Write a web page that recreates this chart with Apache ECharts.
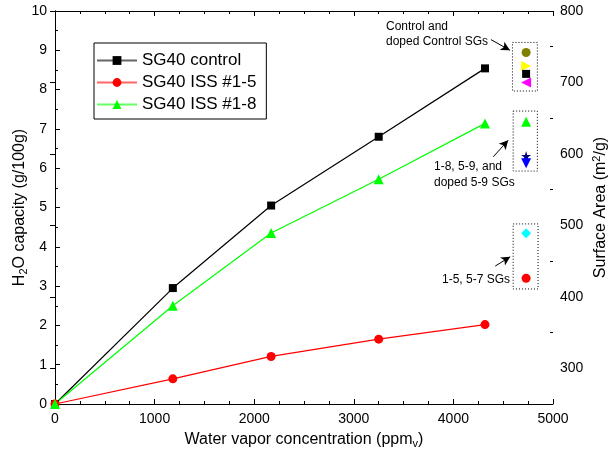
<!DOCTYPE html>
<html>
<head>
<meta charset="utf-8">
<script src="https://cdn.jsdelivr.net/npm/echarts@6/dist/echarts.min.js"></script>
<style>html,body{margin:0;padding:0;background:#fff}#c{width:613px;height:456px}</style>
</head>
<body>
<div id="c"></div>
<script>
// ---- data ----
const ppmv = [0, 1183, 2170, 3250, 4317];
const sg40Control = [0, 2.95, 5.05, 6.80, 8.54];
const sg40Iss15 = [0, 0.64, 1.21, 1.65, 2.02];
const sg40Iss18 = [0, 2.50, 4.35, 5.72, 7.14];
const saX = 4730;
const saNames = ['Control A', 'Doped control A', 'Control B', 'Doped control B', '1-8', '5-9', 'Doped 5-9', '1-5', '5-7'];
const saValues = [742, 723, 712, 700, 645, 597, 587, 489, 426];
const saColors = ['#808000', '#ffff00', '#000000', '#ff00ff', '#00ff00', '#000080', '#0000ff', '#00ffff', '#ff0000'];
const saSymbols = ['circle', 'triangle', 'rect', 'triangle', 'triangle',
  'path://M50,0 L61,35 L98,35 L68,57 L79,91 L50,70 L21,91 L32,57 L2,35 L39,35 Z', 'triangle', 'diamond', 'circle'];
const saRotate = [0, -90, 0, 90, 0, 0, 180, 0, 0];
const saSizes = [9, 10, 8, 10, 10, 10, 10, 10, 9];
const xTicks = [0, 1000, 2000, 3000, 4000, 5000];
const rightTickLabels = [300, 400, 500, 600, 700, 800];
const rightMinorTicks = [250, 350, 450, 550, 650, 750];
// dotted group boxes [x0, y0, x1, y1] in (ppmv, surface area)
const boxes = [[4593, 756, 4843, 688], [4600, 660, 4843, 576], [4600, 502, 4850, 411]];
// annotation arrows [x0, y0, x1, y1] in (ppmv, surface area)
const arrows = [[4377, 760, 4567, 745], [4400, 596, 4550, 619], [4420, 443, 4570, 456]];

const FONT = "'Liberation Sans', Arial, sans-serif";
const chart = echarts.init(document.getElementById('c'));

const series = [
  {name: 'SG40 control', data: sg40Control, color: '#000000', symbol: 'rect', size: 8},
  {name: 'SG40 ISS #1-5', data: sg40Iss15, color: '#ff0000', symbol: 'circle', size: 9},
  {name: 'SG40 ISS #1-8', data: sg40Iss18, color: '#00ff00', symbol: 'triangle', size: 10}
].map(s => ({
  type: 'line', name: s.name, xAxisIndex: 0, yAxisIndex: 0,
  data: ppmv.map((x, i) => [x, s.data[i]]),
  symbol: s.symbol, symbolSize: s.size, showSymbol: true,
  itemStyle: {color: s.color},
  lineStyle: {color: s.color, width: 1.2},
  clip: true, animation: false
}));

saValues.forEach((v, i) => {
  const s = {
    type: 'scatter', name: saNames[i], xAxisIndex: 0, yAxisIndex: 1,
    data: [[saX, v]], symbol: saSymbols[i], symbolSize: saSizes[i], symbolRotate: saRotate[i],
    itemStyle: {color: saColors[i], opacity: 1}, animation: false, z: 3
  };
  if (i === 0) {
    s.markArea = {
      silent: true,
      itemStyle: {color: 'rgba(0,0,0,0)', borderColor: '#000', borderWidth: 1, borderType: [1, 2]},
      data: boxes.map(b => [{coord: [b[0], b[1]]}, {coord: [b[2], b[3]]}])
    };
    s.markLine = {
      silent: true, symbol: ['none', 'arrow'], symbolSize: [7, 9],
      label: {show: false},
      lineStyle: {color: '#000', width: 1, type: 'solid'},
      data: arrows.map(a => [{coord: [a[0], a[1]]}, {coord: [a[2], a[3]]}]),
      animation: false
    };
  }
  series.push(s);
});

const tickCommon = {show: true, inside: true, length: 5, lineStyle: {color: '#000', width: 1}};
const minorCommon = {show: true, length: 3, lineStyle: {color: '#000', width: 1}};
const lineCommon = {show: true, lineStyle: {color: '#000', width: 1}};
const plain = v => String(v);

chart.setOption({
  backgroundColor: '#fff',
  animation: false,
  textStyle: {fontFamily: FONT},
  grid: {left: 55, right: 60, top: 11, bottom: 52, containLabel: false, outerBoundsMode: 'none'},
  legend: {
    orient: 'vertical', left: 94, top: 43,
    data: ['SG40 control', 'SG40 ISS #1-5', 'SG40 ISS #1-8'],
    itemWidth: 40, itemHeight: 11, itemGap: 5,
    padding: [9, 10, 6, 2],
    borderColor: '#000', borderWidth: 1,
    textStyle: {fontFamily: FONT, fontSize: 17, color: '#000'},
    lineStyle: {opacity: 0.6},
    selectedMode: false
  },
  xAxis: [{
    type: 'value', position: 'bottom', min: 0, max: 5000, interval: 1000,
    name: '{a|Water vapor concentration (ppm}{s|v}{a|)}',
    nameLocation: 'middle', nameGap: 26, nameMoveOverlap: false,
    nameTextStyle: {rich: {
      a: {fontFamily: FONT, fontSize: 16, color: '#000'},
      s: {fontFamily: FONT, fontSize: 11, color: '#000', verticalAlign: 'bottom', padding: [8, 0, 0, 0]}
    }},
    axisLine: lineCommon, axisTick: tickCommon,
    minorTick: Object.assign({splitNumber: 4}, minorCommon),
    axisLabel: {fontFamily: FONT, fontSize: 14, color: '#000', margin: 8, customValues: xTicks, formatter: plain},
    splitLine: {show: false}
  }, {
    type: 'value', position: 'top', min: 0, max: 5000, interval: 1000,
    axisLine: lineCommon, axisTick: tickCommon,
    minorTick: Object.assign({splitNumber: 4}, minorCommon),
    axisLabel: {show: false}, splitLine: {show: false}
  }],
  yAxis: [{
    type: 'value', position: 'left', min: 0, max: 10, interval: 1,
    name: '{a|H}{s|2}{a|O capacity (g/100g)}',
    nameLocation: 'middle', nameGap: 26, nameRotate: 90, nameMoveOverlap: false,
    nameTextStyle: {rich: {
      a: {fontFamily: FONT, fontSize: 16, color: '#000'},
      s: {fontFamily: FONT, fontSize: 11, color: '#000', verticalAlign: 'bottom', padding: [8, 0, 0, 0]}
    }},
    axisLine: lineCommon, axisTick: tickCommon,
    minorTick: Object.assign({splitNumber: 2}, minorCommon),
    axisLabel: {fontFamily: FONT, fontSize: 14, color: '#000', margin: 8, formatter: plain},
    splitLine: {show: false}
  }, {
    type: 'value', position: 'right', min: 250, max: 800, interval: 50,
    name: '{a|Surface Area (m}{p|2}{a|/g)}',
    nameLocation: 'middle', nameGap: 38, nameRotate: 90, nameMoveOverlap: false,
    nameTextStyle: {rich: {
      a: {fontFamily: FONT, fontSize: 16, color: '#000'},
      p: {fontFamily: FONT, fontSize: 11, color: '#000', verticalAlign: 'top', padding: [0, 0, 8, 0]}
    }},
    axisLine: lineCommon,
    axisTick: Object.assign({customValues: rightTickLabels}, tickCommon),
    axisLabel: {fontFamily: FONT, fontSize: 14, color: '#000', margin: 7, customValues: rightTickLabels, formatter: plain},
    splitLine: {show: false}
  }, {
    type: 'value', position: 'right', min: 250, max: 800, interval: 50,
    axisLine: {show: false},
    axisTick: {show: true, inside: true, length: 3, customValues: rightMinorTicks, lineStyle: {color: '#000', width: 1}},
    axisLabel: {show: false}, splitLine: {show: false}
  }],
  graphic: [
    {type: 'text', left: 386, top: 19, style: {text: 'Control and\ndoped Control SGs', font: '12px ' + FONT, fill: '#000', lineHeight: 15}},
    {type: 'text', left: 434, top: 159, style: {text: '1-8, 5-9, and\ndoped 5-9 SGs', font: '12px ' + FONT, fill: '#000', lineHeight: 15.5}},
    {type: 'text', left: 442, top: 274, style: {text: '1-5, 5-7 SGs', font: '12px ' + FONT, fill: '#000'}}
  ],
  series: series
});
</script>
</body>
</html>
